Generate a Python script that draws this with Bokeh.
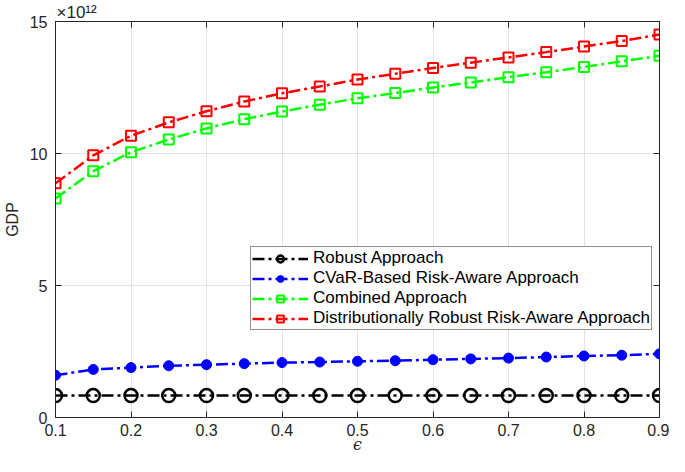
from bokeh.plotting import figure
from bokeh.models import Range1d, FixedTicker, LinearAxis, Legend, LegendItem
from bokeh.embed import file_html
from bokeh.resources import INLINE

# data (GDP in units of 1e12)
eps = [0.1, 0.15, 0.2, 0.25, 0.3, 0.35, 0.4, 0.45, 0.5, 0.55, 0.6, 0.65, 0.7, 0.75, 0.8, 0.85, 0.9]
robust = [0.83, 0.83, 0.83, 0.83, 0.83, 0.83, 0.83, 0.83, 0.83, 0.83, 0.83, 0.83, 0.83, 0.83, 0.83, 0.83, 0.83]
cvar = [1.60, 1.82, 1.89, 1.96, 2.00, 2.04, 2.08, 2.10, 2.13, 2.15, 2.19, 2.22, 2.25, 2.29, 2.33, 2.36, 2.41]
combined = [8.30, 9.33, 10.05, 10.53, 10.95, 11.30, 11.59, 11.85, 12.09, 12.29, 12.50, 12.69, 12.89, 13.08, 13.28, 13.49, 13.70]
dro = [8.87, 9.93, 10.67, 11.18, 11.60, 11.97, 12.28, 12.54, 12.80, 13.02, 13.24, 13.44, 13.64, 13.84, 14.05, 14.26, 14.51]
names = ["Robust Approach", "CVaR-Based Risk-Aware Approach", "Combined Approach",
         "Distributionally Robust Risk-Aware Approach"]
x_ticks = [0.1, 0.2, 0.3, 0.4, 0.5, 0.6, 0.7, 0.8, 0.9]
y_ticks = [0, 5, 10, 15]

FONT = "Liberation Sans"
AX = "#262626"

p = figure(width=669, height=456, output_backend="svg", toolbar_location=None,
           x_range=Range1d(0.1, 0.9), y_range=Range1d(0, 15),
           min_border_left=55, min_border_right=10, min_border_top=21, min_border_bottom=36)
p.background_fill_color = "white"
p.border_fill_color = "white"
p.outline_line_color = AX
p.outline_line_width = 1

# exponent shown above the axes, MATLAB style
p.title.text = "×10¹²"
p.title.align = "left"
p.title.offset = 1
p.title.standoff = 0
p.title.text_font = FONT
p.title.text_font_size = "17px"
p.title.text_font_style = "normal"
p.title.text_color = AX

for ax in (p.xaxis[0], p.yaxis[0]):
    ax.major_tick_in = 6
    ax.major_tick_out = 0
    ax.minor_tick_line_color = None
    ax.axis_line_color = AX
    ax.major_tick_line_color = AX
    ax.major_label_text_font = FONT
    ax.major_label_text_font_size = "16px"
    ax.major_label_text_color = AX
    ax.axis_label_text_color = AX
    ax.axis_label_text_font_size = "16px"
p.xaxis.ticker = FixedTicker(ticks=x_ticks)
p.yaxis.ticker = FixedTicker(ticks=y_ticks)
p.xaxis.major_label_standoff = 6
p.yaxis.major_label_standoff = 8

p.xaxis.axis_label = "ϵ"
p.xaxis.axis_label_text_font = "DejaVu Serif"
p.xaxis.axis_label_text_font_style = "italic"
p.xaxis.axis_label_standoff = -4
p.yaxis.axis_label = "GDP"
p.yaxis.axis_label_text_font = FONT
p.yaxis.axis_label_text_font_style = "normal"
p.yaxis.axis_label_standoff = 6

# box ticks on top and right
for side, tk in (("above", x_ticks), ("right", y_ticks)):
    a = LinearAxis(ticker=FixedTicker(ticks=tk), major_tick_in=6, major_tick_out=0,
                   minor_tick_line_color=None, axis_line_color=AX, major_tick_line_color=AX,
                   major_label_text_font_size="0px", major_label_standoff=0)
    p.add_layout(a, side)

p.grid.grid_line_color = "#e3e3e3"
p.grid.grid_line_width = 1
p.xgrid.ticker = FixedTicker(ticks=x_ticks)
p.ygrid.ticker = FixedTicker(ticks=y_ticks)

dash = "12 4 3 4"
items = []

l1 = p.line(eps, robust, color="black", line_width=2.5, line_dash=dash)
s1 = p.scatter(eps, robust, marker="circle", size=13, line_color="black", line_width=2.5, fill_alpha=0)
items.append(LegendItem(label=names[0], renderers=[l1, s1]))

l2 = p.line(eps, cvar, color="#0000ff", line_width=2.5, line_dash=dash)
s2 = p.scatter(eps, cvar, marker="circle", size=10, color="#0000ff")
items.append(LegendItem(label=names[1], renderers=[l2, s2]))

l3 = p.line(eps, combined, color="#00ff00", line_width=2.5, line_dash=dash)
s3 = p.scatter(eps, combined, marker="square", size=10, line_color="#00ff00", line_width=2, fill_alpha=0)
items.append(LegendItem(label=names[2], renderers=[l3, s3]))

l4 = p.line(eps, dro, color="#ff0000", line_width=2.5, line_dash=dash)
s4 = p.scatter(eps, dro, marker="square", size=10, line_color="#ff0000", line_width=2, fill_alpha=0)
items.append(LegendItem(label=names[3], renderers=[l4, s4]))

leg = Legend(items=items, location=(195, 87))
leg.label_text_font = FONT
leg.label_text_font_size = "17px"
leg.label_text_color = "black"
leg.label_height = 17
leg.glyph_height = 17
leg.glyph_width = 56
leg.label_standoff = 5
leg.spacing = 0
leg.padding = 1
leg.margin = 0
leg.border_line_color = AX
leg.border_line_width = 1
leg.background_fill_color = "white"
leg.background_fill_alpha = 1
p.add_layout(leg, "center")

open("out.html", "w").write(file_html(p, INLINE))
